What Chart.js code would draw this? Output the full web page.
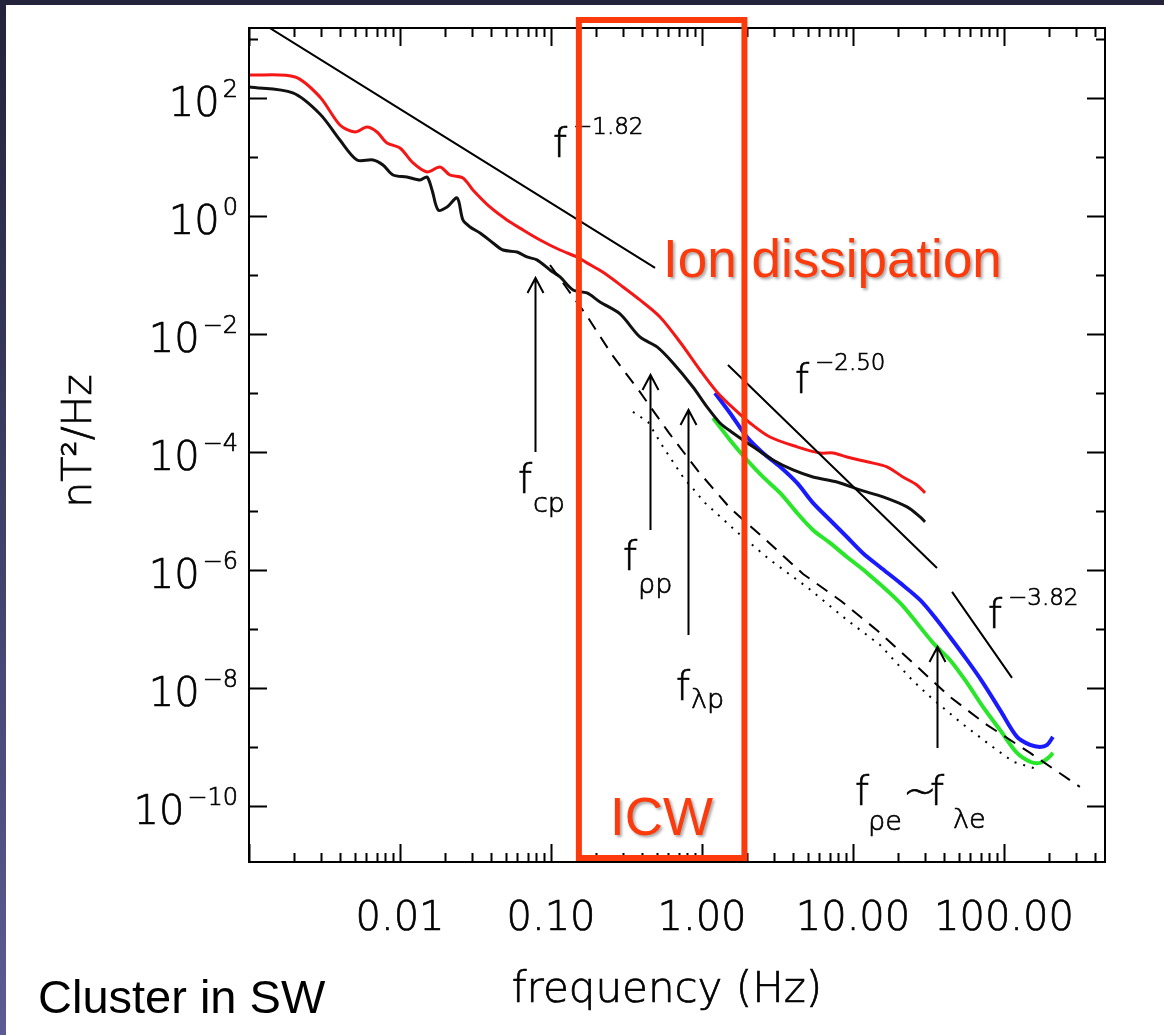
<!DOCTYPE html>
<html>
<head>
<meta charset="utf-8">
<script src="https://cdn.jsdelivr.net/npm/chart.js@4.4.0/dist/chart.umd.min.js"></script>
<style>
  html, body { margin: 0; padding: 0; background: #fff; }
  body { width: 1164px; height: 1035px; position: relative; overflow: hidden; }
  .bar-top { position: absolute; left: 0; top: 0; width: 1164px; height: 5px; background: #23233b; }
  .bar-left { position: absolute; left: 0; top: 0; width: 6px; height: 1035px; background: linear-gradient(#23233b, #5d5b95); }
  #spectrum { position: absolute; left: 0; top: 0; }
</style>
</head>
<body>
<div class="bar-top"></div>
<div class="bar-left"></div>
<canvas id="spectrum" width="1164" height="1035"></canvas>
<script>
// magnetic spectra, frequency in Hz, power in nT^2/Hz
const freqRed = [0.001, 0.00202, 0.00295, 0.0040, 0.00504, 0.00604, 0.00704, 0.0082, 0.01, 0.0122,
  0.0151, 0.0184, 0.0214, 0.0261, 0.0304, 0.0394, 0.0511, 0.0653, 0.0846, 0.1148,
  0.1486, 0.173, 0.22, 0.300, 0.388, 0.527, 0.715, 0.970, 1.256, 1.604,
  2.08, 2.82, 4.26, 6.04, 7.38, 9.12, 12.4, 16.8, 21.4, 26.5, 30.0];
const powRed = [245, 227, 104, 34.9, 26.5, 32.2, 26.5, 17.3, 14.2, 7.91,
  5.57, 6.77, 4.95, 4.41, 2.76, 1.42, 0.855, 0.579, 0.392, 0.265,
  0.202, 0.160, 0.112, 0.0626, 0.0377, 0.0194, 0.0073, 0.00245, 0.00104, 0.000557,
  0.00031, 0.000179, 0.000122, 9.6e-5, 9.6e-5, 8.2e-5, 6.8e-5, 5.6e-5, 3.77e-5, 2.76e-5, 2.02e-5];

const freqBlack = [0.001, 0.00195, 0.00295, 0.0040, 0.00519, 0.00663, 0.00771, 0.0090, 0.0111, 0.01357,
  0.0151, 0.0163, 0.0179, 0.0205, 0.0239, 0.0261, 0.0291, 0.0339, 0.0413, 0.0481,
  0.0596, 0.0693, 0.0807, 0.0985, 0.1148, 0.140, 0.173, 0.211, 0.2864, 0.388,
  0.504, 0.643, 0.871, 1.079, 1.315, 1.604, 2.18, 2.95, 4.01, 5.43,
  7.84, 11.1, 15.8, 22.8, 27.8, 30.0];
const powBlack = [153, 122, 53.6, 19.4, 8.9, 8.9, 7.31, 4.95, 4.58, 4.07,
  4.58, 2.76, 1.26, 1.42, 2.02, 0.855, 0.651, 0.515, 0.348, 0.265,
  0.245, 0.202, 0.180, 0.1216, 0.0925, 0.0557, 0.0495, 0.0348, 0.0218, 0.0089,
  0.00603, 0.00322, 0.00126, 0.00058, 0.00031, 0.00021, 0.000122, 7.3e-5, 4.95e-5, 3.77e-5,
  3.1e-5, 2.27e-5, 1.73e-5, 1.17e-5, 7.91e-6, 6.51e-6];

const freqBlue = [1.219, 1.532, 1.986, 2.535, 3.29, 4.26, 5.43, 7.04, 9.12, 11.6,
  15.1, 20.5, 27.8, 36.0, 43.9, 56.9, 72.6, 94.1, 122, 149, 173, 193, 211];
const powBlue = [0.001, 0.000458, 0.000179, 9.6e-5, 5.6e-5, 2.98e-5, 1.37e-5, 7.03e-6, 3.62e-6, 1.94e-6,
  1.12e-6, 6.03e-7, 3.1e-7, 1.42e-7, 7.3e-8, 2.98e-8, 1.22e-8, 4.24e-9, 1.48e-9, 1.08e-9, 1.0e-9, 1.08e-9, 1.48e-9];

const freqGreen = [1.183, 1.532, 1.986, 2.535, 3.29, 4.26, 5.43, 7.04, 9.12, 12.4,
  20.5, 33.9, 43.9, 56.9, 72.6, 94.1, 122, 149, 173, 196, 211];
const powGreen = [0.000377, 0.00016, 7.3e-5, 3.77e-5, 2.02e-5, 9.25e-6, 4.77e-6, 2.87e-6, 1.66e-6, 8.9e-7,
  2.76e-7, 5.8e-8, 2.98e-8, 1.22e-8, 4.77e-9, 1.94e-9, 7.9e-10, 5.6e-10, 5.36e-10, 6.5e-10, 7.9e-10];

const freqDashed = [0.0985, 0.173, 0.254, 0.388, 0.604, 0.94, 1.532, 2.65, 4.67, 8.33, 14.6, 25.4, 43.9, 77.1, 149, 318];
const powDashed = [0.1477, 0.0202, 0.0044, 0.00104, 0.00021, 4.76e-5, 1.12e-5, 3.22e-6, 8.55e-7, 2.98e-7,
  9.25e-8, 2.55e-8, 7.03e-9, 2.36e-9, 7.9e-10, 2.1e-10];

const freqDotted = [0.349, 0.439, 0.552, 0.748, 1.047, 1.706, 2.82, 5.04, 9.12, 15.1, 24.6, 31.4, 51.1, 80.8, 115, 173];
const powDotted = [0.000477, 0.000322, 0.000122, 3.77e-5, 1.37e-5, 4.4e-6, 1.48e-6, 4.95e-7, 1.42e-7, 5.36e-8,
  1.37e-8, 7.6e-9, 2.65e-9, 1.08e-9, 5.6e-10, 4.07e-10];

// power-law reference lines
const fitFreq = [[0.00134, 0.489], [1.486, 36.0], [45.3, 113]];
const fitPow = [[1596, 0.1315], [0.00298, 1.08e-6], [4.24e-7, 1.48e-8]];
const fitIndex = ['−1.82', '−2.50', '−3.82'];

// characteristic frequencies: f_cp, f_rho_p, f_lambda_p, f_rho_e ~ f_lambda_e
const arrowFreq = [0.0783, 0.453, 0.807, 35.9];
const arrowTip = [0.0889, 0.00202, 5.15e-4, 4.95e-8];
const arrowTail = [1.0e-4, 4.77e-6, 7.9e-8, 9.6e-10];

const xTickValues = [0.01, 0.1, 1, 10, 100];
const xTickLabels = ['0.01', '0.10', '1.00', '10.00', '100.00'];
const yTickExponents = [2, 0, -2, -4, -6, -8, -10];

// ICW band edges (Hz)
const icwBand = [0.153, 1.91];

const pts = (fs, ps) => fs.map((f, i) => ({ x: f, y: ps[i] }));

const THIN = '"DejaVu Sans"';
const ORANGE = '#fc3a0c';

function line(label, fs, ps, color, width, dash) {
  return {
    label: label,
    data: pts(fs, ps),
    showLine: true,
    borderColor: color,
    borderWidth: width,
    borderDash: dash || [],
    pointRadius: 0,
    tension: dash ? 0 : 0.3,
    fill: false
  };
}

const datasets = [
  line('fit1', fitFreq[0], fitPow[0], '#000', 2),
  line('fit2', fitFreq[1], fitPow[1], '#000', 2),
  line('fit3', fitFreq[2], fitPow[2], '#000', 2),
  line('dashed', freqDashed, powDashed, '#000', 2, [13, 9]),
  line('dotted', freqDotted, powDotted, '#000', 2, [2, 7]),
  line('black', freqBlack, powBlack, '#111', 3),
  line('red', freqRed, powRed, '#f51616', 3),
  line('green', freqGreen, powGreen, '#2ae62a', 4),
  line('blue', freqBlue, powBlue, '#1a1aff', 4)
];

// thin plotting-package lettering: light face plus a hairline outline
function text(ctx, str, x, y, size, align, family, weight) {
  ctx.font = (weight || '200') + ' ' + size + 'px ' + (family || THIN);
  ctx.textAlign = align || 'left';
  ctx.textBaseline = 'alphabetic';
  ctx.fillText(str, x, y);
  if (!family) {
    ctx.lineWidth = 0.7;
    ctx.strokeText(str, x, y);
  }
}

// frame, inward ticks, labels and annotations
const decorations = {
  id: 'decorations',
  afterDatasetsDraw(chart) {
    const ctx = chart.ctx, a = chart.chartArea;
    const xs = chart.scales.x, ys = chart.scales.y;
    ctx.save();
    ctx.strokeStyle = '#000';
    ctx.fillStyle = '#000';
    ctx.lineWidth = 2;
    ctx.strokeRect(a.left, a.top, a.right - a.left, a.bottom - a.top);

    // x ticks, top and bottom
    ctx.beginPath();
    for (let e = -3; e <= 2; e++) {
      for (let k = 1; k <= 9; k++) {
        const v = k * Math.pow(10, e);
        if (v < xs.min || v > xs.max) continue;
        const px = Math.round(xs.getPixelForValue(v)) + 0.5;
        const len = k === 1 ? 18 : 9;
        ctx.moveTo(px, a.bottom); ctx.lineTo(px, a.bottom - len);
        ctx.moveTo(px, a.top); ctx.lineTo(px, a.top + len);
      }
    }
    // y ticks, left and right
    for (let e = -10; e <= 3; e++) {
      const py = Math.round(ys.getPixelForValue(Math.pow(10, e))) + 0.5;
      const len = e % 2 === 0 ? 18 : 9;
      ctx.moveTo(a.left, py); ctx.lineTo(a.left + len, py);
      ctx.moveTo(a.right, py); ctx.lineTo(a.right - len, py);
    }
    ctx.stroke();

    // x tick labels
    xTickValues.forEach((v, i) => {
      text(ctx, xTickLabels[i], xs.getPixelForValue(v), 930, 40, 'center');
    });
    // y tick labels as powers of ten
    yTickExponents.forEach(e => {
      const py = ys.getPixelForValue(Math.pow(10, e));
      const sup = e < 0 ? '−' + (-e) : String(e);
      ctx.font = '200 24px ' + THIN;
      const ws = ctx.measureText(sup).width;
      text(ctx, sup, 238, py - 1, 24, 'right');
      text(ctx, '10', 238 - ws - 3, py + 18, 40, 'right');
    });

    // axis titles
    text(ctx, 'frequency (Hz)', 667, 1002, 42, 'center');
    ctx.save();
    ctx.translate(91, 441);
    ctx.rotate(-Math.PI / 2);
    text(ctx, 'nT²/Hz', 0, 0, 41, 'center');
    ctx.restore();

    // power-law labels
    const fitLabelPos = [[553, 157], [795, 393], [988, 628]];
    fitIndex.forEach((s, i) => {
      const p = fitLabelPos[i];
      text(ctx, 'f', p[0], p[1], 40);
      text(ctx, s, p[0] + 20, p[1] - 23, 23);
    });

    // arrows
    ctx.lineWidth = 2;
    arrowFreq.forEach((f, i) => {
      const px = Math.round(xs.getPixelForValue(f)) + 0.5;
      const top = ys.getPixelForValue(arrowTip[i]);
      const bot = ys.getPixelForValue(arrowTail[i]);
      ctx.beginPath();
      ctx.moveTo(px, bot); ctx.lineTo(px, top);
      ctx.moveTo(px - 8, top + 15); ctx.lineTo(px, top); ctx.lineTo(px + 8, top + 15);
      ctx.stroke();
    });

    // arrow labels
    text(ctx, 'f', 518, 493, 40);
    text(ctx, 'cp', 533, 512, 27);
    text(ctx, 'f', 623, 570, 40);
    text(ctx, 'ρp', 638, 593, 27);
    text(ctx, 'f', 676, 700, 40);
    text(ctx, 'λp', 691, 708, 27);
    text(ctx, 'f', 855, 805, 40);
    text(ctx, 'ρe', 868, 830, 27);
    text(ctx, '~', 903, 805, 40);
    text(ctx, 'f', 930, 805, 40);
    text(ctx, 'λe', 953, 828, 27);

    // ICW band box
    const bx0 = xs.getPixelForValue(icwBand[0]);
    const bx1 = xs.getPixelForValue(icwBand[1]);
    ctx.strokeStyle = ORANGE;
    ctx.lineWidth = 6;
    ctx.strokeRect(bx0, a.top - 8, bx1 - bx0, a.bottom - a.top + 4);

    // slide labels
    ctx.fillStyle = ORANGE;
    ctx.shadowColor = 'rgba(0,0,0,0.35)';
    ctx.shadowOffsetX = 2;
    ctx.shadowOffsetY = 2;
    ctx.shadowBlur = 3;
    text(ctx, 'Ion dissipation', 663, 277, 53, 'left', '"Liberation Sans", Arial', 'normal');
    text(ctx, 'ICW', 610, 835, 53, 'left', '"Liberation Sans", Arial', 'normal');
    ctx.restore();

    ctx.save();
    ctx.fillStyle = '#000';
    text(ctx, 'Cluster in SW', 38, 1013, 47, 'left', '"Liberation Sans", Arial', 'normal');
    ctx.restore();
  }
};

new Chart(document.getElementById('spectrum'), {
  type: 'scatter',
  data: { datasets: datasets },
  options: {
    responsive: false,
    animation: false,
    layout: { padding: { left: 249, right: 59, top: 28, bottom: 173 } },
    scales: {
      x: { type: 'logarithmic', min: 0.001, max: 466.6, display: false },
      y: { type: 'logarithmic', min: 1.12e-11, max: 1535, display: false }
    },
    plugins: {
      legend: { display: false },
      tooltip: { enabled: false }
    }
  },
  plugins: [decorations]
});
</script>
</body>
</html>
